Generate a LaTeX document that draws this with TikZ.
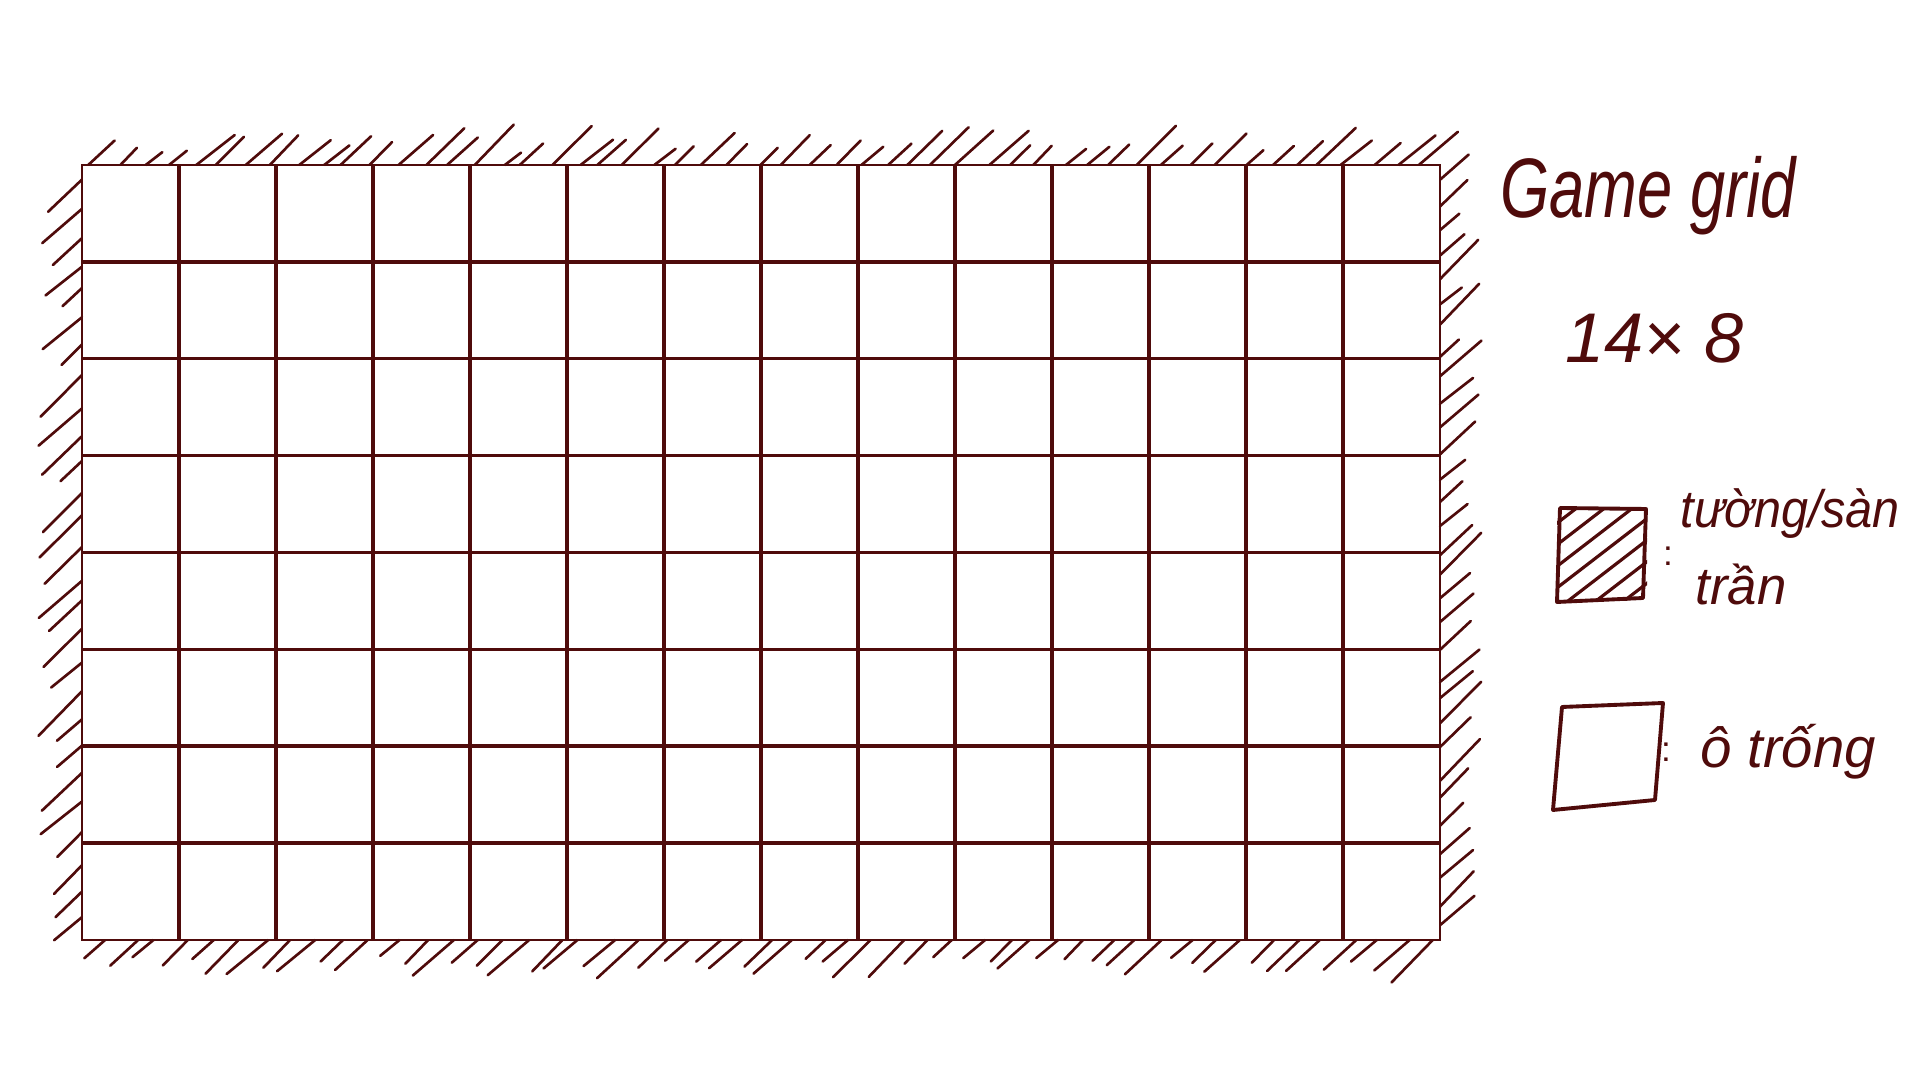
\documentclass[tikz,border=0pt]{standalone}
\usepackage{fontspec}
\setmainfont{Liberation Sans}
\definecolor{ink}{HTML}{4F0B0B}
\begin{document}
\begin{tikzpicture}[x=0.01cm,y=-0.01cm,
  outer/.style={draw=ink,line width=0.5pt},
  inner/.style={draw=ink,line width=1.0pt},
  hatch/.style={draw=ink,line width=0.75pt,line cap=round},
  legbox/.style={draw=ink,line width=1.1pt,line join=round,line cap=round},
  hand/.style={text=ink,inner sep=0pt}]
\useasboundingbox[fill=white] (0,0) rectangle (1920,1080);
\pgfmathsetseed{12}
% grid
\foreach \i in {1,...,13} \draw[inner] ({82+97*\i},165) -- ({82+97*\i},940);
\foreach \j in {1,...,7} \draw[inner] (82,{165+96.875*\j}) -- (1440,{165+96.875*\j});
\draw[outer] (82,165) rectangle (1440,940);
% hatching: top
\foreach \i in {0,...,52}{
  \pgfmathsetmacro\xx{84+\i*25.6+12*rnd}
  \pgfmathsetmacro\ll{16+24*rnd}
  \pgfmathsetmacro\aa{0.75+0.3*rnd}
  \draw[hatch] (\xx,165) -- ++(\ll,{-\aa*\ll});
}
% left
\foreach \i in {0,...,26}{
  \pgfmathsetmacro\yy{172+\i*28.5+10*rnd}
  \pgfmathsetmacro\ll{18+26*rnd}
  \pgfmathsetmacro\aa{0.75+0.3*rnd}
  \draw[hatch] (82,\yy) -- ++(-\ll,{\aa*\ll});
}
% bottom
\foreach \i in {0,...,50}{
  \pgfmathsetmacro\xx{100+\i*26.5+12*rnd}
  \pgfmathsetmacro\ll{18+24*rnd}
  \pgfmathsetmacro\aa{0.8+0.25*rnd}
  \draw[hatch] (\xx,940) -- ++(-\ll,{\aa*\ll});
}
% right
\foreach \i in {0,...,30}{
  \pgfmathsetmacro\yy{172+\i*25+10*rnd}
  \pgfmathsetmacro\ll{18+24*rnd}
  \pgfmathsetmacro\aa{0.75+0.3*rnd}
  \draw[hatch] (1440,\yy) -- ++(\ll,{-\aa*\ll});
}
% legend: hatched box
\begin{scope}
  \clip (1557,508) rectangle (1647,601);
  \foreach \c in {-84,-56,...,84}
    \draw[hatch,line width=0.9pt] ({1601+\c-80},{554+0.77*80}) -- ({1601+\c+80},{554-0.77*80});
\end{scope}
\draw[legbox] (1560,508) -- (1646,509) -- (1643,598) -- (1557,602) -- cycle;
% legend: empty box
\draw[legbox] (1562,707) -- (1663,703) -- (1655,800) -- (1553,810) -- cycle;
% texts
\node[hand,anchor=base west,font=\itshape\fontsize{24}{28}\selectfont,xscale=0.75] (title) at (1500,218) {Game grid};
\node[hand,anchor=base west,font=\itshape\fontsize{20}{24}\selectfont] (dims) at (1565,363) {14× 8};
\node[hand,font=\fontsize{10}{12}\selectfont] (col1) at (1668,556) {:};
\node[hand,anchor=base west,font=\itshape\fontsize{15}{18}\selectfont,xscale=0.92] (lab1a) at (1680,528) {tường/sàn};
\node[hand,anchor=base west,font=\itshape\fontsize{15}{18}\selectfont] (lab1b) at (1695,605) {trần};
\node[hand,font=\fontsize{10}{12}\selectfont] (col2) at (1666,752) {:};
\node[hand,anchor=base west,font=\itshape\fontsize{16}{19}\selectfont] (lab2) at (1700,768) {ô trống};
\end{tikzpicture}
\end{document}
